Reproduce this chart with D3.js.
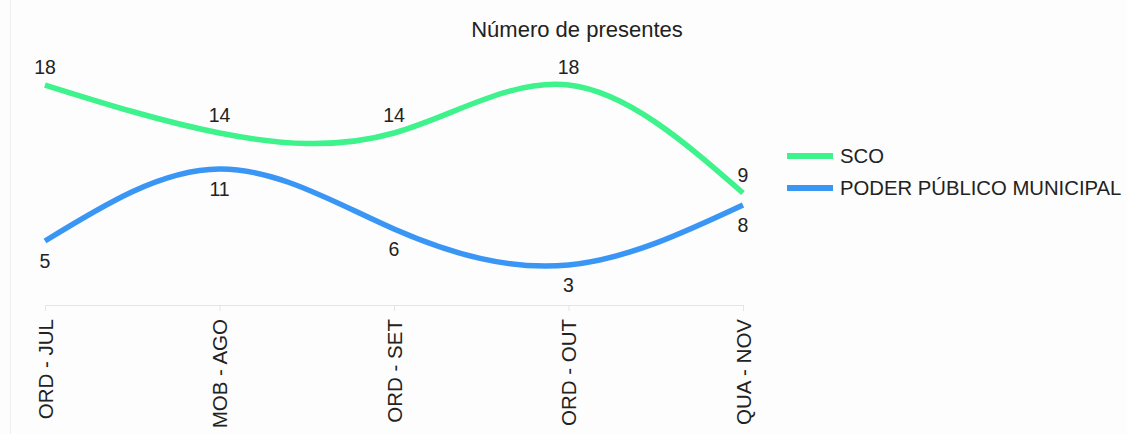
<!DOCTYPE html>
<html>
<head>
<meta charset="utf-8">
<script src="https://cdn.jsdelivr.net/npm/d3@7"></script>
<style>
  html, body { margin: 0; padding: 0; background: #fdfdfd; }
  svg { display: block; font-family: "Liberation Sans", Arial, sans-serif; }
</style>
</head>
<body>
<svg id="chart" width="1127" height="434"></svg>
<script>
// Meetings (x axis)
const categories = ["ORD - JUL", "MOB - AGO", "ORD - SET", "ORD - OUT", "QUA - NOV"];
// Attendance per group
const scoValues = [18, 14, 14, 18, 9];
const poderValues = [5, 11, 6, 3, 8];
const seriesNames = ["SCO", "PODER PÚBLICO MUNICIPAL"];
const seriesColors = ["#3ef28c", "#3a96f5"];

const series = [
  { name: seriesNames[0], values: scoValues, color: seriesColors[0], labelDy: -18 },
  { name: seriesNames[1], values: poderValues, color: seriesColors[1], labelDy: 20 }
];

const svg = d3.select("#chart");

// faint frame edge on the left
svg.append("line")
  .attr("x1", 10.5).attr("x2", 10.5).attr("y1", 0).attr("y2", 434)
  .attr("stroke", "#eef0f2").attr("stroke-width", 1);

const x = d3.scalePoint().domain(categories).range([45, 743]);
const y = d3.scaleLinear().domain([0, 18]).range([301, 85]);
const axisY = 305;

// title
svg.append("text")
  .attr("x", 577).attr("y", 37)
  .attr("text-anchor", "middle")
  .attr("font-size", 22)
  .attr("fill", "#222")
  .text("Número de presentes");

// x axis
const xAxis = d3.axisBottom(x).tickSize(6).tickSizeOuter(0).tickPadding(8);
const gx = svg.append("g").attr("transform", `translate(0,${axisY})`).call(xAxis);
gx.select(".domain").attr("stroke", "#e3e5e8");
gx.selectAll(".tick line").attr("stroke", "#e3e5e8");
gx.selectAll(".tick text")
  .attr("font-size", 20.5)
  .attr("fill", "#222")
  .attr("font-family", "Liberation Sans, Arial, sans-serif")
  .attr("transform", "rotate(-90)")
  .attr("text-anchor", "end")
  .attr("x", -14)
  .attr("y", 0)
  .attr("dy", "0.35em");

// lines
const line = d3.line()
  .x((d, i) => x(categories[i]))
  .y(d => y(d))
  .curve(d3.curveNatural);

series.forEach(s => {
  svg.append("path")
    .datum(s.values)
    .attr("d", line)
    .attr("fill", "none")
    .attr("stroke", s.color)
    .attr("stroke-width", 5.5)
    .attr("stroke-linecap", "butt");

  svg.append("g").selectAll("text")
    .data(s.values)
    .join("text")
    .attr("x", (d, i) => x(categories[i]))
    .attr("y", d => y(d) + s.labelDy)
    .attr("dy", "0.35em")
    .attr("text-anchor", "middle")
    .attr("font-size", 19.5)
    .attr("fill", "#222")
    .text(d => d);
});

// legend
const legend = svg.append("g").attr("transform", "translate(787,156)");
series.forEach((s, i) => {
  const g = legend.append("g").attr("transform", `translate(0,${i * 32})`);
  g.append("line")
    .attr("x1", 0).attr("x2", 46).attr("y1", 0).attr("y2", 0)
    .attr("stroke", s.color).attr("stroke-width", 6);
  g.append("text")
    .attr("x", 53).attr("y", 0).attr("dy", "0.35em")
    .attr("font-size", 20.3)
    .attr("fill", "#222")
    .text(s.name);
});
</script>
</body>
</html>
